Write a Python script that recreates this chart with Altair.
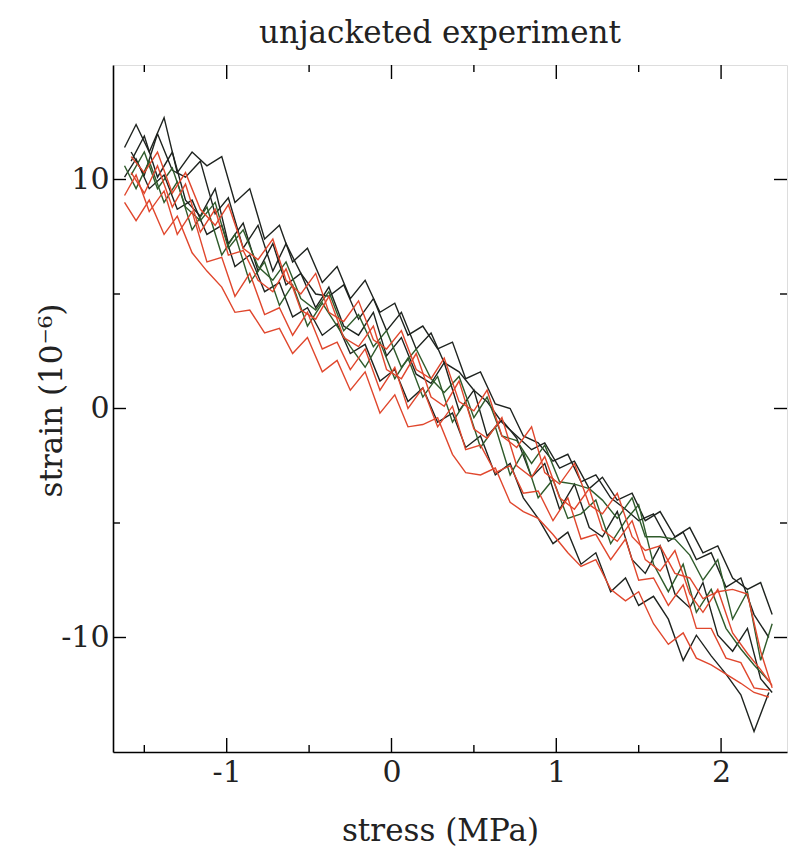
import altair as alt
import pandas as pd

# stress grids (MPa)
stress_a = [-1.62, -1.55, -1.47, -1.38, -1.30, -1.21, -1.12, -1.03, -0.95, -0.86,
            -0.77, -0.68, -0.60, -0.51, -0.42, -0.33, -0.25, -0.16, -0.07, 0.02,
            0.10, 0.19, 0.28, 0.37, 0.45, 0.54, 0.63, 0.72, 0.80, 0.89,
            0.98, 1.07, 1.15, 1.24, 1.33, 1.42, 1.50, 1.59, 1.68, 1.77,
            1.85, 1.94, 2.03, 2.12, 2.20, 2.29]
stress_b = [-1.58, -1.50, -1.42, -1.33, -1.25, -1.16, -1.07, -0.99, -0.90, -0.81,
            -0.72, -0.64, -0.55, -0.46, -0.38, -0.29, -0.20, -0.11, -0.03, 0.06,
            0.15, 0.24, 0.32, 0.41, 0.50, 0.58, 0.67, 0.76, 0.85, 0.93,
            1.02, 1.11, 1.20, 1.28, 1.37, 1.46, 1.54, 1.63, 1.72, 1.81,
            1.89, 1.98, 2.07, 2.16, 2.24, 2.31]

# strain traces (1e-6)
t1_black = [11.4, 12.4, 11.2, 12.7, 10.3, 11.2, 10.6, 11.0, 9.0, 9.6,
            7.4, 8.0, 6.4, 7.0, 5.5, 6.2, 4.8, 5.6, 4.2, 4.6,
            3.2, 3.6, 2.6, 2.9, 1.3, 1.6, 0.2, 0.0, -1.2, -1.5,
            -2.3, -2.0, -3.2, -2.9, -3.9, -4.4, -4.9, -4.6, -5.8, -5.4,
            -6.6, -6.3, -7.8, -7.4, -9.0, -10.0]
t2_black = [10.8, 11.9, 10.1, 11.2, 9.1, 8.4, 9.6, 7.2, 8.1, 6.0,
            7.2, 5.4, 5.9, 4.4, 5.3, 3.6, 3.2, 4.2, 2.3, 3.1,
            1.5, 1.1, 2.0, -0.1, 0.8, -1.2, -0.5, -1.3, -3.0, -2.4,
            -4.4, -3.3, -5.2, -5.6, -4.5, -6.6, -7.2, -6.0, -8.1, -8.7,
            -7.6, -9.9, -10.6, -9.6, -11.8, -12.4]
t3_black = [10.1, 10.9, 9.6, 10.2, 8.7, 9.1, 7.6, 8.0, 6.2, 6.7,
            5.1, 5.5, 4.0, 4.4, 3.2, 3.7, 2.4, 2.8, 1.2, 1.7,
            0.3, 0.9, -0.6, -0.2, -1.7, -1.2, -2.9, -2.4, -3.9, -4.8,
            -5.9, -5.4, -6.8, -6.3, -8.0, -7.4, -8.6, -8.2, -9.2, -11.0,
            -9.9, -10.8, -11.6, -12.5, -14.1, -12.4]
t4_black = [11.2, 10.2, 12.0, 10.4, 10.1, 10.8, 8.5, 9.2, 7.0, 8.0,
            6.0, 7.2, 5.9, 5.0, 4.9, 5.4, 3.9, 4.8, 3.4, 4.2,
            2.6, 3.3, 2.0, 1.6, 0.8, 0.3, -0.6, -1.2, -1.8, -1.5,
            -2.6, -2.3, -3.5, -3.0, -4.0, -3.7, -4.9, -4.5, -5.6, -5.2,
            -6.3, -6.0, -7.4, -7.9, -7.6, -9.0]
t5_green = [10.6, 9.6, 10.8, 9.0, 9.9, 7.8, 8.8, 6.7, 7.6, 5.5,
            6.4, 4.5, 5.4, 3.6, 4.6, 3.6, 2.7, 1.8, 2.9, 1.3,
            2.2, 0.5, 1.4, -0.6, 0.3, -1.7, -0.8, -2.9, -1.9, -3.9,
            -3.1, -4.8, -4.6, -4.0, -5.9, -4.9, -4.2, -6.8, -8.0, -6.8,
            -8.9, -7.9, -9.6, -10.5, -11.2, -11.9]
t6_green = [10.2, 11.2, 9.6, 10.5, 8.8, 8.2, 9.0, 7.0, 7.8, 6.2,
            5.6, 6.4, 4.8, 4.3, 5.1, 3.4, 4.1, 2.7, 3.4, 1.8,
            2.6, 1.3, 0.7, 1.4, -0.4, 0.5, -1.2, -1.4, -2.4, -1.6,
            -3.2, -3.3, -3.5, -4.0, -4.8, -3.9, -5.6, -5.6, -5.7, -6.4,
            -7.5, -6.6, -9.2, -8.0, -11.0, -9.4]
t7_red = [9.0, 8.2, 9.1, 7.6, 8.4, 6.8, 6.0, 5.3, 4.2, 4.3,
          3.3, 3.5, 2.4, 3.1, 1.6, 2.1, 0.8, 1.6, -0.2, 0.6,
          -0.8, -0.7, -0.4, -2.0, -2.8, -2.9, -2.6, -4.1, -4.5, -4.8,
          -5.5, -6.3, -6.9, -6.6, -7.9, -8.4, -8.0, -9.4, -10.3, -9.8,
          -10.9, -11.2, -11.6, -12.0, -12.4, -12.6]
t8_red = [10.3, 9.4, 10.6, 8.8, 9.8, 7.7, 8.7, 6.7, 6.9, 5.6,
          5.1, 6.1, 4.3, 3.9, 4.9, 3.1, 2.7, 3.6, 1.7, 1.3,
          2.4, 0.5, 0.1, 1.2, -0.9, -1.3, -0.4, -2.5, -3.0, -2.1,
          -3.9, -4.4, -3.5, -5.3, -5.8, -4.9, -6.6, -7.1, -6.2, -8.1,
          -8.9, -7.9, -9.8, -10.7, -11.4, -12.1]
t9_red = [9.3, 10.2, 8.6, 9.5, 7.6, 8.6, 6.4, 6.6, 4.9, 5.9,
          4.1, 4.4, 3.2, 4.2, 2.6, 2.9, 1.7, 2.6, 0.8, 1.8,
          0.0, 0.9, -0.8, 0.1, -1.8, -1.6, -2.8, -2.5, -3.7, -3.6,
          -4.9, -3.9, -5.7, -5.5, -6.6, -5.7, -7.5, -7.4, -8.6, -7.7,
          -9.6, -9.6, -10.9, -11.1, -12.2, -12.3]
t10_red = [11.0, 10.3, 11.2, 9.4, 10.3, 8.7, 8.0, 8.9, 7.0, 6.5,
           7.4, 5.6, 5.0, 5.9, 4.2, 3.8, 4.7, 3.0, 2.6, 3.4,
           1.7, 1.3, 2.2, 0.3, -0.1, 0.8, -1.2, -1.7, -0.8, -2.8,
           -3.3, -2.4, -4.2, -4.6, -3.7, -5.6, -6.2, -6.0, -7.2, -7.4,
           -8.3, -8.0, -7.9, -8.1, -10.6, -12.2]

traces = [
    ("t1", "black", stress_a, t1_black),
    ("t2", "black", stress_b, t2_black),
    ("t3", "black", stress_a, t3_black),
    ("t4", "black", stress_b, t4_black),
    ("t5", "green", stress_a, t5_green),
    ("t6", "green", stress_b, t6_green),
    ("t7", "red", stress_a, t7_red),
    ("t8", "red", stress_b, t8_red),
    ("t9", "red", stress_a, t9_red),
    ("t10", "red", stress_b, t10_red),
]

x_major = [-1, 0, 1, 2]
x_minor = [-1.5, -0.5, 0.5, 1.5]
y_major = [-10, 0, 10]
y_minor = [-5, 5]

rows = []
for k, (name, col, xs, ys) in enumerate(traces):
    for i, (xv, yv) in enumerate(zip(xs, ys)):
        rows.append({"trace": name, "colour": col, "stress": xv, "strain": yv, "i": i, "k": k})
df = pd.DataFrame(rows)

W, H = 674, 687
FONT = "DejaVu Serif"
xscale = alt.Scale(domain=[-1.69, 2.40], nice=False, zero=False)
yscale = alt.Scale(domain=[-15, 15], nice=False, zero=False)

lines = alt.Chart(df).mark_line(strokeWidth=1.4, clip=True).encode(
    x=alt.X("stress:Q", scale=xscale,
            axis=alt.Axis(values=x_major, title="stress (MPa)", ticks=False, grid=False,
                          domainColor="black", domainWidth=1.6,
                          labelExpr="'' + datum.value", labelFont=FONT, labelFontSize=30,
                          labelColor="#222", labelPadding=5, titleFont=FONT, titleFontSize=31,
                          titleFontWeight="normal", titleColor="#222", titleX=327, titleY=88,
                          titleBaseline="alphabetic")),
    y=alt.Y("strain:Q", scale=yscale,
            axis=alt.Axis(values=y_major, title="strain (10⁻⁶)", ticks=False, grid=False,
                          domainColor="black", domainWidth=1.6,
                          labelExpr="'' + datum.value", labelFont=FONT, labelFontSize=30,
                          labelColor="#222", labelPadding=4, titleFont=FONT, titleFontSize=31,
                          titleFontWeight="normal", titleColor="#222", titleX=-52, titleY=335,
                          titleBaseline="alphabetic", titleAngle=-90)),
    color=alt.Color("colour:N", scale=alt.Scale(domain=["black", "green", "red"],
                                                range=["#1e231f", "#2f5b2b", "#e0472d"]),
                    legend=None),
    detail="trace:N",
    order="i:Q",
)

xmaj = pd.DataFrame({"v": x_major})
xmin = pd.DataFrame({"v": x_minor})
ymaj = pd.DataFrame({"v": y_major})
ymin = pd.DataFrame({"v": y_minor})
tick_style = dict(color="black", strokeWidth=1.4)

def xticks(d, length):
    b = alt.Chart(d).mark_rule(**tick_style).encode(
        x=alt.X("v:Q", scale=xscale), y=alt.value(H), y2=alt.value(H - length))
    t = alt.Chart(d).mark_rule(**tick_style).encode(
        x=alt.X("v:Q", scale=xscale), y=alt.value(0), y2=alt.value(length))
    return b + t

def yticks(d, length):
    l = alt.Chart(d).mark_rule(**tick_style).encode(
        y=alt.Y("v:Q", scale=yscale), x=alt.value(0), x2=alt.value(length))
    r = alt.Chart(d).mark_rule(**tick_style).encode(
        y=alt.Y("v:Q", scale=yscale), x=alt.value(W), x2=alt.value(W - length))
    return l + r

chart = alt.layer(
    lines,
    xticks(xmaj, 14), xticks(xmin, 7), yticks(ymaj, 13), yticks(ymin, 7),
).properties(
    width=W, height=H,
    title=alt.TitleParams("unjacketed experiment", font=FONT, fontSize=31, fontWeight="normal",
                          color="#222", anchor="middle", baseline="alphabetic", offset=27,
                          dx=-10, dy=37, frame="group"),
    autosize=alt.AutoSizeParams(type="none"),
    padding={"left": 105, "top": 57, "right": 1, "bottom": 100},
).configure_view(stroke="black", strokeWidth=1.6).configure(background="white")

chart.save("out.html", embed_options={"renderer": "svg", "actions": False})
